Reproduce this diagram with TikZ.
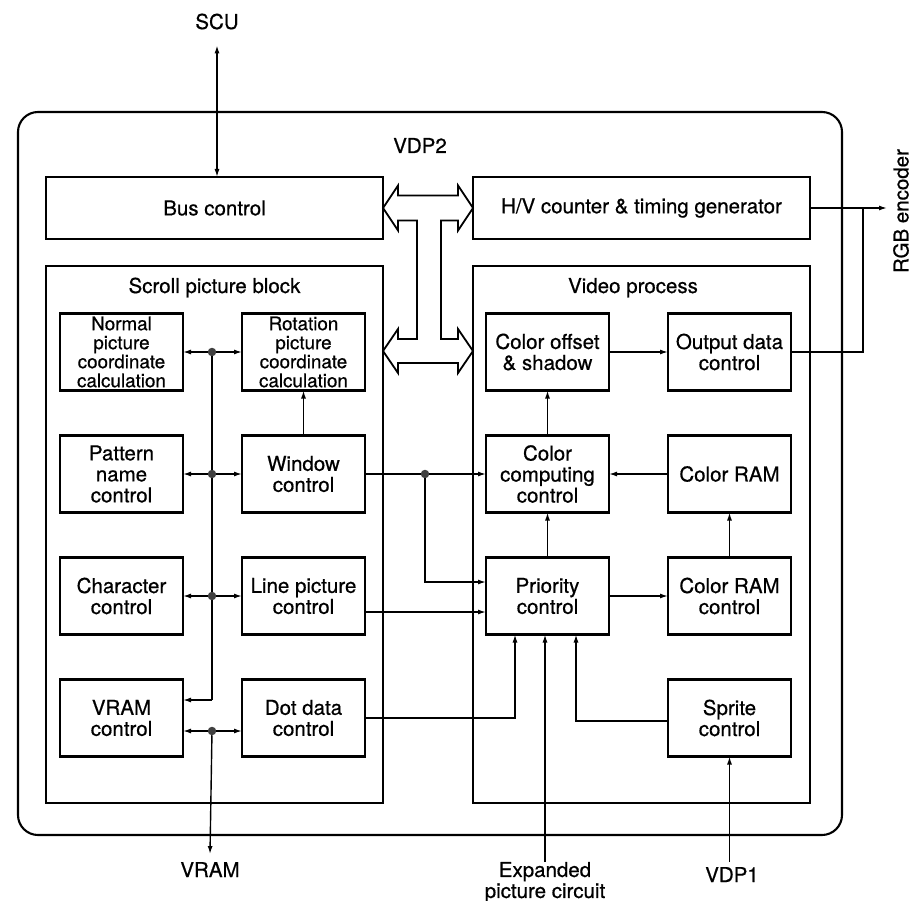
\documentclass[tikz,border=0pt]{standalone}
\usepackage{fontspec}
\setmainfont[FakeBold=0.6]{TeX Gyre Heros}
\usetikzlibrary{arrows.meta,calc}
\begin{document}
\begin{tikzpicture}[x=1pt,y=-1pt,
  every node/.style={inner sep=0pt, outer sep=0pt},
  fnt/.style={font=\fontsize{20.5}{21}\selectfont},
  sfnt/.style={font=\fontsize{18.8}{19}\selectfont},
  blk/.style={draw, line width=2.4pt, minimum width=123pt, minimum height=77pt, align=center, fnt},
  frame/.style={draw, line width=2.1pt},
  conn/.style={line width=1.4pt, -{Latex[length=8pt,width=5pt]}},
  conn2/.style={line width=1.4pt, {Latex[length=8pt,width=5pt]}-{Latex[length=8pt,width=5pt]}},
  wire/.style={line width=1.4pt},
  jdot/.style={circle, fill=black!75, minimum size=8.5pt, draw=none}
]
\useasboundingbox (0,0) rectangle (918,901);

% containers
\node[frame, rounded corners=20pt, minimum width=824pt, minimum height=723pt] (vdp2box) at (430,473.5) {};
\node[fnt, anchor=base] (vdp2) at (420,153) {VDP2};
\node[frame, fnt, minimum width=337pt, minimum height=62pt] (bus) at (214.5,208) {Bus control};
\node[frame, fnt, minimum width=337pt, minimum height=62pt] (hv) at (641.5,208) {H/V counter \& timing generator};
\node[frame, minimum width=337pt, minimum height=537pt] (scroll) at (214.5,534.5) {};
\node[frame, minimum width=337pt, minimum height=537pt] (video) at (641.5,534.5) {};
\node[fnt, anchor=base] (scrolllbl) at (214.5,293) {Scroll picture block};
\node[fnt, anchor=base] (videolbl) at (633,293) {Video process};

% scroll picture block
\node[blk, sfnt] (npc) at (121.5,352) {Normal\\picture\\coordinate\\calculation};
\node[blk, sfnt] (rpc) at (303.5,352) {Rotation\\picture\\coordinate\\calculation};
\node[blk] (pnc) at (121.5,474) {Pattern\\name\\control};
\node[blk] (win) at (303.5,474) {Window\\control};
\node[blk] (chr) at (121.5,596) {Character\\control};
\node[blk] (lpc) at (303.5,596) {Line picture\\control};
\node[blk] (vrc) at (121.5,718) {VRAM\\control};
\node[blk] (ddc) at (303.5,718) {Dot data\\control};

% video process
\node[blk] (cos) at (547.5,352) {Color offset\\\& shadow};
\node[blk] (out) at (729.5,352) {Output data\\control};
\node[blk] (ccc) at (547.5,474) {Color\\computing\\control};
\node[blk] (cram) at (729.5,474) {Color RAM};
\node[blk] (pri) at (547.5,596) {Priority\\control};
\node[blk] (crc) at (729.5,596) {Color RAM\\control};
\node[blk] (spr) at (729.5,718) {Sprite\\control};

% external labels
\node[fnt, anchor=base] (scu) at (217,29) {SCU};
\node[fnt, anchor=base] (vram) at (210,877) {VRAM};
\node[fnt, align=center, anchor=north] (exp) at (545,862) {Expanded\\picture circuit};
\node[fnt, anchor=base] (vdp1) at (732,882) {VDP1};
\node[fnt, rotate=90] (rgb) at (901,211) {RGB encoder};

% wide double-headed bus arrows
\draw[line width=1.8pt, line join=miter]
  (383,208) -- (398,185.5) -- (398,195.5) -- (458,195.5) -- (458,185.5) -- (473,208)
  -- (458,230.5) -- (458,220.5) -- (441,220.5) -- (441,339) -- (458,339) -- (458,329)
  -- (473,351) -- (458,373) -- (458,363) -- (398,363) -- (398,373) -- (383,351)
  -- (398,329) -- (398,339) -- (417,339) -- (417,220.5) -- (398,220.5) -- (398,230.5) -- cycle;

% SCU
\draw[conn2] ([yshift=-16pt]scu.south) -- (bus.north -| scu.south);

% scroll bus
\node[jdot] (d1) at (212,352) {};
\node[jdot] (d2) at (212,474) {};
\node[jdot] (d3) at (212,596) {};
\node[jdot] (d4) at (212,731) {};
\coordinate (vb) at (212,700);
\draw[wire] (d1) -- (d2) -- (d3) -- (vb);
\draw[conn] (vb) -- (vrc.east |- vb);
\draw[conn] (d1) -- (npc);
\draw[conn] (d1) -- (rpc);
\draw[conn] (d2) -- (pnc);
\draw[conn] (d2) -- (win);
\draw[conn] (d3) -- (chr);
\draw[conn] (d3) -- (lpc);
\draw[conn] (d4) -- (vrc.east |- d4);
\draw[conn] (d4) -- (ddc.west |- d4);
\draw[conn] (d4) -- ([yshift=8pt]vram.north);
\draw[conn] (win) -- (rpc);

% scroll -> video
\node[jdot] (wd) at (425,474) {};
\draw[wire] (win) -- (wd);
\draw[conn] (wd) -- (ccc);
\coordinate (wk) at (425,582);
\draw[conn] (wd) -- (wk) -- (pri.west |- wk);
\coordinate (lk) at (303.5,612);
\draw[conn] (lpc.east |- lk) -- (pri.west |- lk);
\coordinate (dk) at (515,718);
\draw[conn] (ddc.east) -- (dk) -- (dk |- pri.south);
\coordinate (sk) at (576,721);
\draw[conn] (spr.west |- sk) -- (sk) -- (sk |- pri.south);
\draw[conn] (exp.north) -- (exp.north |- pri.south);
\draw[conn] (spr.south |- exp.north) -- (spr.south);

% video internal
\draw[conn] (pri) -- (ccc);
\draw[conn] (ccc) -- (cos);
\draw[conn] (cram) -- (ccc);
\draw[conn] (crc) -- (cram);
\draw[conn] (pri) -- (crc);
\draw[conn] (cos) -- (out);

% RGB output
\coordinate (rgbtip) at (887,208);
\coordinate (jn) at (863,208);
\draw[conn] (hv.east) -- (rgbtip);
\draw[wire] (out.east) -| (jn);
\end{tikzpicture}
\end{document}
